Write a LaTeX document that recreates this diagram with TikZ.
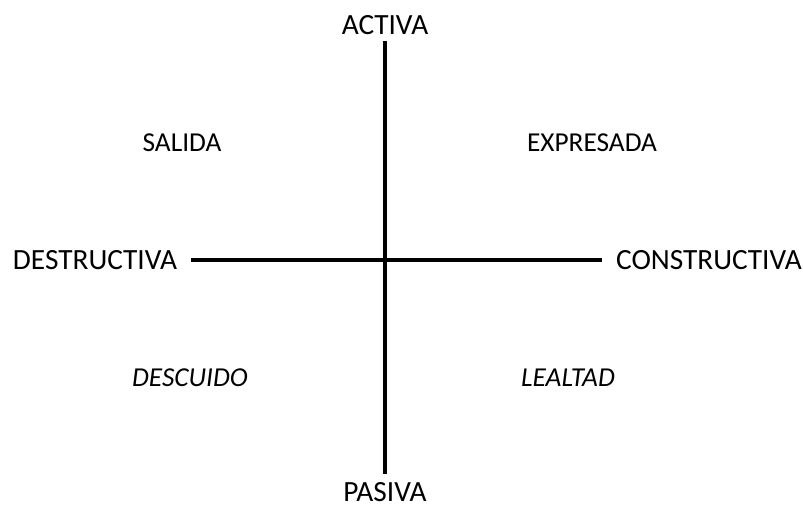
\documentclass[tikz,border=0pt]{standalone}
\usepackage{fontspec}
\setmainfont{Carlito}
\usetikzlibrary{positioning}

\begin{document}
\begin{tikzpicture}[
  x=0.75pt, y=-0.75pt,
  font=\fontsize{22}{26}\selectfont,
  lbl/.style={inner sep=0pt},
  zone/.style={inner sep=0pt, font=\fontsize{20.5}{24}\selectfont},
  axis/.style={line width=2.3pt}
]
\useasboundingbox (0,0) rectangle (803,507);

\node[lbl] (act) at (385,25) {ACTIVA};
\node[lbl] (pas) at (385,492) {PASIVA};
\node[lbl] (des) at (95,260) {DESTRUCTIVA};
\node[lbl] (con) at (709,260) {CONSTRUCTIVA};

\node[zone] (sal) at (182,143) {SALIDA};
\node[zone] (exp) at (592,143) {EXPRESADA};
\node[zone] (dsc) at (190,378) {\itshape DESCUIDO};
\node[zone] (lea) at (568,378) {\itshape LEALTAD};

\draw[axis, shorten <=4.5pt, shorten >=6pt] (act) -- (pas);
\draw[axis, shorten <=10.5pt, shorten >=10.5pt] (des) -- (con);
\end{tikzpicture}
\end{document}
